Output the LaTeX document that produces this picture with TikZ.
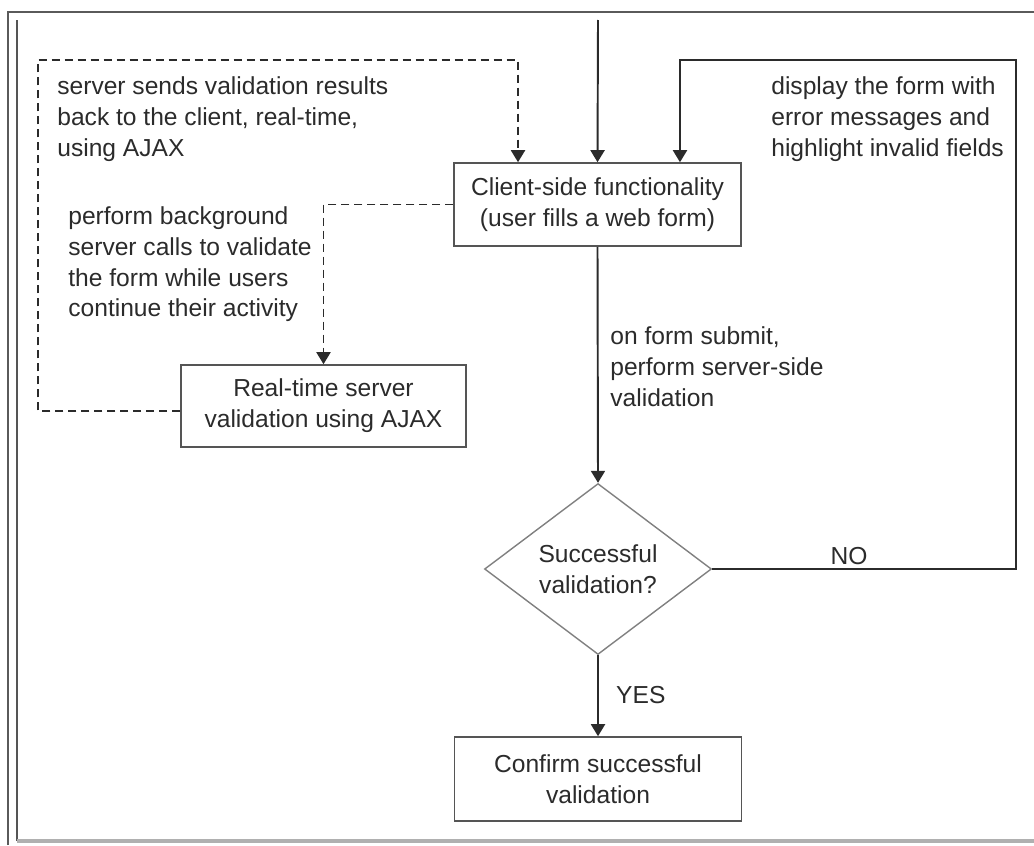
\documentclass[tikz,border=0pt]{standalone}
\usepackage{fontspec}
\setmainfont{Liberation Sans}
\usetikzlibrary{arrows.meta,shapes.geometric}
\definecolor{inkgrey}{HTML}{2B2B2B}
\definecolor{boxgrey}{HTML}{555555}
\definecolor{framegrey}{HTML}{5A5A5A}
\definecolor{shadegrey}{HTML}{B0B0B0}
\tikzset{
  procbox/.style={draw=boxgrey,line width=0.9pt,minimum width=5.74cm,minimum height=1.66cm,align=center,inner sep=0pt},
  decision/.style={diamond,draw=gray,line width=0.8pt,minimum width=4.54cm,minimum height=3.42cm,shape aspect=1.33,align=center,inner sep=0pt},
  note/.style={align=left,inner sep=0pt,anchor=north west},
  flow/.style={line width=1.1pt,draw=inkgrey,-{Triangle[length=0.24cm,width=0.28cm]}},
  ajaxflow/.style={flow,dash pattern=on 0.16cm off 0.1cm},
}
\begin{document}
\begin{tikzpicture}[x=0.02cm,y=-0.02cm,font=\fontsize{14}{17.6}\selectfont,text=inkgrey]
  \useasboundingbox (0,0) rectangle (1034,845);

  % frame of the screenshot
  \draw[framegrey,line width=1.1pt] (8,845) -- (8,12) -- (1034,12);
  \draw[inkgrey!80,line width=1.1pt] (17,20) -- (17,841);
  \draw[shadegrey,line width=2pt] (17,841) -- (1034,841);

  % boxes
  \node[procbox] (client) at (597.5,204.5) {Client-side functionality\\(user fills a web form)};
  \node[procbox,minimum width=5.7cm,minimum height=1.64cm] (rt) at (323.5,406) {Real-time server\\validation using AJAX};
  \node[decision] (valid) at (598,569) {Successful\\validation?};
  \node[procbox,minimum height=1.68cm] (confirm) at (598,779) {Confirm successful\\validation};

  % notes
  \node[note] (srvnote) at (57,76) {server sends validation results\\back to the client, real-time,\\using AJAX};
  \node[note] (bgnote) at (68,206) {perform background\\server calls to validate\\the form while users\\continue their activity};
  \node[note] (errnote) at (771,76) {display the form with\\error messages and\\highlight invalid fields};
  \node[note] (subnote) at (610,326) {on form submit,\\perform server-side\\validation};
  \node[anchor=base] (nolbl) at (849,564) {NO};
  \node[anchor=base west] (yeslbl) at (610,703) {YES};

  \coordinate (entry) at (598,20);
  \coordinate (ajaxcorner) at (38,60);
  \coordinate (nocorner) at (1016,60);

  % connectors
  \draw[flow] (entry) -- (client.north);
  \draw[ajaxflow] ([yshift=-0.1cm]rt.west) -| (ajaxcorner) -| ([xshift=-1.59cm]client.north);
  \draw[ajaxflow] (client.west) -| (rt.north);
  \draw[flow] (client.south) -- (valid.north);
  \draw[flow] (valid.east) -| (nocorner) -| ([xshift=1.65cm]client.north);
  \draw[flow] (valid.south) -- (confirm.north);
\end{tikzpicture}
\end{document}
